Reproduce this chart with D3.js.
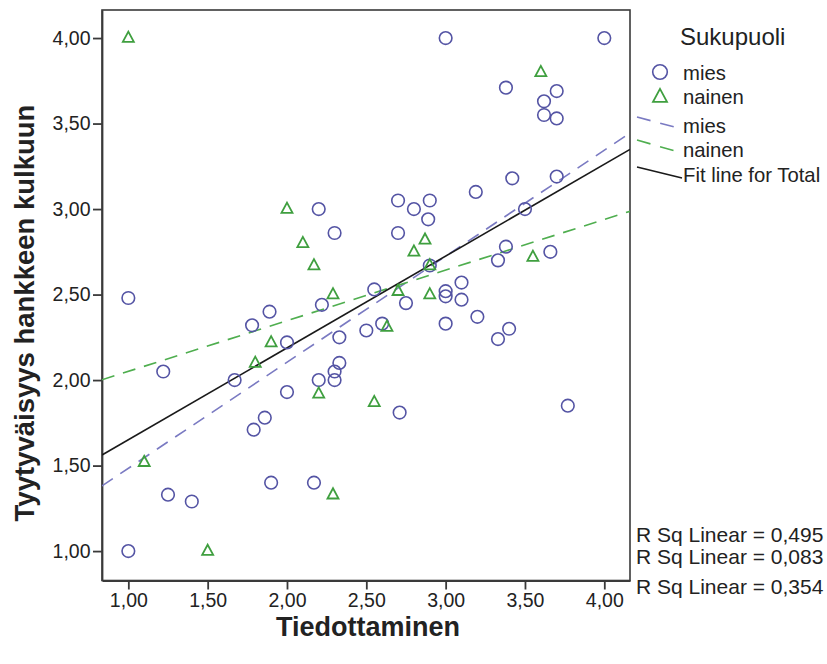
<!DOCTYPE html>
<html>
<head>
<meta charset="utf-8">
<script src="https://cdn.jsdelivr.net/npm/d3@7"></script>
<style>
  body { margin: 0; background: #fff; }
  text { font-family: "Liberation Sans", Arial, sans-serif; fill: #222; }
</style>
</head>
<body>
<svg id="chart" width="827" height="664"></svg>
<script>
// Tick values on both axes
const xTicks = [1.0, 1.5, 2.0, 2.5, 3.0, 3.5, 4.0];
const yTicks = [1.0, 1.5, 2.0, 2.5, 3.0, 3.5, 4.0];

// Observations, men (mies)
const miesX = [1.00, 1.00, 1.22, 1.25, 1.40, 1.67, 1.78, 1.79, 1.86, 1.89, 1.90, 2.00, 2.00, 2.17,
               2.20, 2.20, 2.22, 2.30, 2.30, 2.30, 2.33, 2.33, 2.50, 2.55, 2.60, 2.70, 2.70, 2.71,
               2.75, 2.80, 2.89, 2.90, 2.90, 3.00, 3.00, 3.00, 3.00, 3.10, 3.10, 3.19, 3.20, 3.33,
               3.33, 3.38, 3.38, 3.40, 3.42, 3.50, 3.62, 3.62, 3.66, 3.70, 3.70, 3.70, 3.77, 4.00];
const miesY = [2.48, 1.00, 2.05, 1.33, 1.29, 2.00, 2.32, 1.71, 1.78, 2.40, 1.40, 2.22, 1.93, 1.40,
               3.00, 2.00, 2.44, 2.86, 2.05, 2.00, 2.25, 2.10, 2.29, 2.53, 2.33, 3.05, 2.86, 1.81,
               2.45, 3.00, 2.94, 3.05, 2.67, 4.00, 2.52, 2.49, 2.33, 2.57, 2.47, 3.10, 2.37, 2.70,
               2.24, 3.71, 2.78, 2.30, 3.18, 3.00, 3.63, 3.55, 2.75, 3.69, 3.53, 3.19, 1.85, 4.00];

// Observations, women (nainen)
const nainenX = [1.00, 1.10, 1.50, 1.80, 1.90, 2.00, 2.10, 2.17, 2.20, 2.29, 2.29, 2.55, 2.63, 2.70,
                 2.80, 2.87, 2.90, 2.90, 3.55, 3.60];
const nainenY = [4.00, 1.52, 1.00, 2.10, 2.22, 3.00, 2.80, 2.67, 1.92, 2.50, 1.33, 1.87, 2.31, 2.52,
                 2.75, 2.82, 2.67, 2.50, 2.72, 3.80];

// Linear fit lines: mies, nainen, total
const fitNames = ["mies", "nainen", "Fit line for Total"];
const fitIntercept = [0.864, 1.755, 1.114];
const fitSlope = [0.620, 0.296, 0.537];
const rsqLabels = ["R Sq Linear = 0,495", "R Sq Linear = 0,083", "R Sq Linear = 0,354"];

const COL_M = "#5454a4", COL_N = "#3f9f3f";
const LINE_M = "#7a7ac2", LINE_N = "#4fae4f", LINE_T = "#1a1a1a";

const svg = d3.select("#chart");
const plot = { left: 102, right: 630, top: 10, bottom: 580.5 };

const x = d3.scaleLinear().domain([0.834, 4.162]).range([plot.left, plot.right]);
const y = d3.scaleLinear().domain([0.828, 4.164]).range([plot.bottom, plot.top]);

const fi = d3.formatLocale({ decimal: ",", thousands: " ", grouping: [3], currency: ["", ""] });
const fmt = fi.format(".2f");

// Frame
svg.append("rect")
  .attr("x", plot.left).attr("y", plot.top)
  .attr("width", plot.right - plot.left).attr("height", plot.bottom - plot.top)
  .attr("fill", "#fff").attr("stroke", "#3a3a3a").attr("stroke-width", 1.6);

// Axes
const xAxis = svg.append("g").attr("transform", `translate(0,${plot.bottom})`)
  .call(d3.axisBottom(x).tickValues(xTicks).tickFormat(fmt).tickSize(9).tickSizeOuter(0));
const yAxis = svg.append("g").attr("transform", `translate(${plot.left},0)`)
  .call(d3.axisLeft(y).tickValues(yTicks).tickFormat(fmt).tickSize(9).tickSizeOuter(0));
[xAxis, yAxis].forEach(g => {
  g.select(".domain").attr("stroke", "#3a3a3a").attr("stroke-width", 1.8);
  g.selectAll(".tick line").attr("stroke", "#3a3a3a").attr("stroke-width", 1.8);
  g.selectAll(".tick text").attr("font-size", 19.5).attr("fill", "#2a2a2a")
    .style("font-family", '"Liberation Sans", Arial, sans-serif');
});
xAxis.selectAll(".tick text").attr("y", 10).attr("dy", "0.85em");
yAxis.selectAll(".tick text").attr("x", -11.5);

// Axis titles
svg.append("text").attr("x", 368).attr("y", 636).attr("text-anchor", "middle")
  .attr("font-size", 27).attr("font-weight", "bold").attr("fill", "#111")
  .text("Tiedottaminen");
svg.append("text").attr("transform", "translate(34,313) rotate(-90)").attr("text-anchor", "middle")
  .attr("font-size", 27.5).attr("font-weight", "bold").attr("fill", "#111")
  .text("Tyytyväisyys hankkeen kulkuun");

// Fit lines, clipped to the plot area
svg.append("clipPath").attr("id", "pc").append("rect")
  .attr("x", plot.left).attr("y", plot.top)
  .attr("width", plot.right - plot.left).attr("height", plot.bottom - plot.top);
const lineStyles = [
  { color: LINE_M, dash: "13,9", width: 1.6 },
  { color: LINE_N, dash: "13,9", width: 1.6 },
  { color: LINE_T, dash: null, width: 1.6 }
];
const [x0, x1] = x.domain();
const gLines = svg.append("g").attr("clip-path", "url(#pc)");
fitIntercept.forEach((b, i) => {
  const m = fitSlope[i];
  gLines.append("line")
    .attr("x1", x(x0)).attr("y1", y(b + m * x0))
    .attr("x2", x(x1)).attr("y2", y(b + m * x1))
    .attr("stroke", lineStyles[i].color).attr("stroke-width", lineStyles[i].width)
    .attr("stroke-dasharray", lineStyles[i].dash);
});

// Markers
const tri = s => `M0,${-s * 0.58}L${s * 0.5},${s * 0.35}L${-s * 0.5},${s * 0.35}Z`;
const gPts = svg.append("g");
gPts.selectAll("circle.m").data(d3.range(miesX.length)).join("circle")
  .attr("class", "m")
  .attr("cx", i => x(miesX[i])).attr("cy", i => y(miesY[i])).attr("r", 6.3)
  .attr("fill", "none").attr("stroke", COL_M).attr("stroke-width", 1.6);
gPts.selectAll("path.n").data(d3.range(nainenX.length)).join("path")
  .attr("class", "n")
  .attr("transform", i => `translate(${x(nainenX[i])},${y(nainenY[i])})`)
  .attr("d", tri(11))
  .attr("fill", "none").attr("stroke", COL_N).attr("stroke-width", 1.8);

// Legend
const lg = svg.append("g");
lg.append("text").attr("x", 680).attr("y", 45).attr("font-size", 24).text("Sukupuoli");
lg.append("circle").attr("cx", 660).attr("cy", 72).attr("r", 7.3)
  .attr("fill", "none").attr("stroke", COL_M).attr("stroke-width", 1.6);
lg.append("path").attr("transform", "translate(660,97)").attr("d", tri(14))
  .attr("fill", "none").attr("stroke", COL_N).attr("stroke-width", 1.8);
const legendText = ["mies", "nainen", fitNames[0], fitNames[1], fitNames[2]];
const legendY = [80, 104, 133, 157, 182];
legendText.forEach((t, i) => {
  lg.append("text").attr("x", 683).attr("y", legendY[i]).attr("font-size", 20.3).text(t);
});
const sampleY = [[117, 129], [140, 153], [167, 178]];
lineStyles.forEach((st, i) => {
  lg.append("line")
    .attr("x1", 637).attr("y1", sampleY[i][0]).attr("x2", 682).attr("y2", sampleY[i][1])
    .attr("stroke", st.color).attr("stroke-width", st.width)
    .attr("stroke-dasharray", st.dash ? "14,10" : null);
});

// R squared annotations
const rsqY = [542, 564, 594];
rsqLabels.forEach((t, i) => {
  svg.append("text").attr("x", 636).attr("y", rsqY[i]).attr("font-size", 21).text(t);
});
</script>
</body>
</html>
